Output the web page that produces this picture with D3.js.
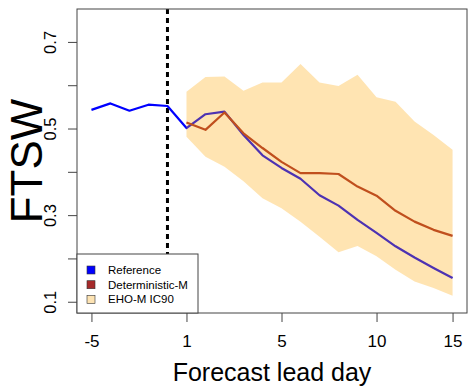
<!DOCTYPE html>
<html lang="en">
<head>
    <meta charset="utf-8">
    <title>FTSW forecast</title>
    <style>
        body { margin: 0; background: #fff; }
        text { font-family: "Liberation Sans", Arial, sans-serif; fill: #000; }
        .axis line { stroke: #444; stroke-width: 1px; }
        .axis path { display: none; }
    </style>
</head>
<body>

<script src="https://d3js.org/d3.v7.min.js"></script>

<script>
  // observed reference, days -5..14 on the plotting index
  const refDays = [-5, -4, -3, -2, -1, 0, 1, 2, 3, 4, 5, 6, 7, 8, 9, 10, 11, 12, 13, 14];
  const refValues = [0.543, 0.558, 0.541, 0.555, 0.552, 0.501, 0.533, 0.539, 0.485, 0.438,
                     0.409, 0.384, 0.346, 0.322, 0.289, 0.259, 0.228, 0.202, 0.178, 0.155];

  // forecasts
  const leadDays = [0, 1, 2, 3, 4, 5, 6, 7, 8, 9, 10, 11, 12, 13, 14];
  const detValues = [0.514, 0.497, 0.537, 0.489, 0.455, 0.423, 0.397, 0.397, 0.395, 0.366,
                     0.345, 0.310, 0.285, 0.266, 0.252];
  const icUpper = [0.585, 0.619, 0.620, 0.587, 0.606, 0.606, 0.649, 0.606, 0.598, 0.624,
                   0.572, 0.562, 0.516, 0.485, 0.451];
  const icLower = [0.481, 0.435, 0.412, 0.378, 0.339, 0.316, 0.285, 0.250, 0.214, 0.229,
                   0.205, 0.174, 0.147, 0.132, 0.114];

  const startDay = -1;  // dashed line: forecast start

  const xTicks = [-5, 0, 5, 10, 14];
  const xTickLabels = ["-5", "1", "5", "10", "15"];
  const yTicks = [0.1, 0.2, 0.3, 0.4, 0.5, 0.6, 0.7];
  const yTickLabels = ["0.1", "", "0.3", "", "0.5", "", "0.7"];

  const legendNames = ["Reference", "Deterministic-M", "EHO-M IC90"];
  const legendColors = ["#0000ff", "#a52a2a", "#fde3b3"];

  const W = 468, H = 386;
  const plot = {left: 77, right: 467, top: 9, bottom: 313};

  // R style 4% padding
  const xlim = [-5, 14], ylim = [0.1, 0.75];
  const padX = (xlim[1] - xlim[0]) * 0.04, padY = (ylim[1] - ylim[0]) * 0.04;

  const x = d3.scaleLinear().domain([xlim[0] - padX, xlim[1] + padX]).range([plot.left, plot.right]);
  const y = d3.scaleLinear().domain([ylim[0] - padY, ylim[1] + padY]).range([plot.bottom, plot.top]);

  const svg = d3.select("body").append("svg")
    .attr("width", W)
    .attr("height", H);

  const clip = svg.append("clipPath").attr("id", "clip")
    .append("rect")
    .attr("x", plot.left).attr("y", plot.top)
    .attr("width", plot.right - plot.left).attr("height", plot.bottom - plot.top);

  const g = svg.append("g").attr("clip-path", "url(#clip)");

  const line = d3.line().x(d => x(d[0])).y(d => y(d[1]));

  // forecast start
  g.append("line")
    .attr("x1", x(startDay)).attr("x2", x(startDay))
    .attr("y1", plot.top).attr("y2", plot.bottom)
    .attr("stroke", "#000")
    .attr("stroke-width", 3)
    .attr("stroke-dasharray", "5,4");

  // reference
  g.append("path")
    .datum(refDays.map((d, i) => [d, refValues[i]]))
    .attr("d", line)
    .attr("fill", "none")
    .attr("stroke", "#0000ff")
    .attr("stroke-width", 2.2)
    .attr("stroke-linejoin", "round");

  // deterministic
  g.append("path")
    .datum(leadDays.map((d, i) => [d, detValues[i]]))
    .attr("d", line)
    .attr("fill", "none")
    .attr("stroke", "#a52a2a")
    .attr("stroke-width", 2.2)
    .attr("stroke-linejoin", "round");

  // IC90 band, drawn on top with transparency
  const area = d3.area()
    .x((d, i) => x(leadDays[i]))
    .y0((d, i) => y(icLower[i]))
    .y1((d, i) => y(icUpper[i]));

  g.append("path")
    .datum(leadDays)
    .attr("d", area)
    .attr("fill", "#ffa500")
    .attr("fill-opacity", 0.3);

  // axes
  const xAxis = svg.append("g")
    .attr("class", "axis")
    .attr("transform", "translate(0," + plot.bottom + ")")
    .call(d3.axisBottom(x).tickValues(xTicks).tickFormat((d, i) => xTickLabels[i]).tickSize(9));

  xAxis.selectAll("text")
    .attr("y", 34).attr("dy", 0)
    .style("font-size", "17px")
    .style("font-family", "'Liberation Sans', Arial, sans-serif");

  const yAxis = svg.append("g")
    .attr("class", "axis")
    .attr("transform", "translate(" + plot.left + ",0)")
    .call(d3.axisLeft(y).tickValues(yTicks).tickFormat((d, i) => yTickLabels[i]).tickSize(9));

  yAxis.selectAll("text")
    .attr("x", null).attr("dy", null)
    .attr("text-anchor", "middle")
    .attr("transform", "translate(-21,0) rotate(-90)")
    .style("font-size", "16.5px")
    .style("font-family", "'Liberation Sans', Arial, sans-serif");

  // box
  svg.append("rect")
    .attr("x", plot.left).attr("y", plot.top)
    .attr("width", plot.right - plot.left).attr("height", plot.bottom - plot.top)
    .attr("fill", "none")
    .attr("stroke", "#444")
    .attr("stroke-width", 1);

  // legend
  const lg = svg.append("g").attr("transform", "translate(" + plot.left + ",254)");
  lg.append("rect")
    .attr("width", 121).attr("height", plot.bottom - 254)
    .attr("fill", "#fff")
    .attr("stroke", "#444")
    .attr("stroke-width", 1);

  const item = lg.selectAll("g.item")
    .data(legendNames)
    .enter().append("g")
    .attr("class", "item")
    .attr("transform", (d, i) => "translate(0," + (16 + i * 14.7) + ")");

  item.append("rect")
    .attr("x", 10).attr("y", -4)
    .attr("width", 8).attr("height", 8)
    .attr("fill", (d, i) => legendColors[i])
    .attr("stroke", "#333")
    .attr("stroke-width", 0.6);

  item.append("text")
    .attr("x", 31).attr("y", 4)
    .style("font-size", "11.5px")
    .text(d => d);

  // axis titles
  svg.append("text")
    .attr("x", (plot.left + plot.right) / 2)
    .attr("y", 381)
    .attr("text-anchor", "middle")
    .style("font-size", "25px")
    .text("Forecast lead day");

  svg.append("text")
    .attr("transform", "translate(42," + (plot.top + plot.bottom) / 2 + ") rotate(-90)")
    .attr("text-anchor", "middle")
    .style("font-size", "44px")
    .text("FTSW");
</script>

</body>
</html>
